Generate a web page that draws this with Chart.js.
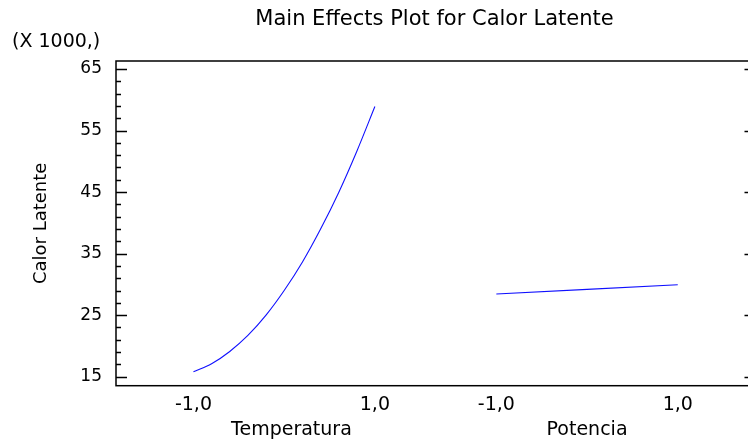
<!DOCTYPE html>
<html><head><meta charset="utf-8">
<script src="https://cdn.jsdelivr.net/npm/chart.js@4/dist/chart.umd.min.js"></script>
<style>
html,body{margin:0;padding:0;overflow:hidden;background:#fff;width:748px;height:443px}
#wrap{position:absolute;left:0;top:0;width:760px;height:443px}
</style>
</head><body><div id="wrap"><canvas id="c" width="760" height="443"></canvas></div>
<script>
// ---- data ----
const chartTitle = 'Main Effects Plot for Calor Latente';
const yAxisTitle = 'Calor Latente';
const yUnitLabel = '(X 1000,)';
const factorNames = ['Temperatura', 'Potencia'];
const factorCenters = [0, 3.339];          // axis position of each factor's centre
const factorNameAt = [0.08, 3.339];        // where each factor name sits on the axis
const levelTicks = [-1, 1];
const levelTickLabels = ['-1,0', '1,0'];
const tempLevels = [-1, -0.8, -0.6, -0.4, -0.2, 0, 0.2, 0.4, 0.6, 0.8, 1];
const tempValues = [15800, 17100, 19100, 21700, 25000, 29000, 33600, 38950, 44900, 51600, 58900];
const potLevels = [-1, 1];
const potValues = [28440, 29950];
const yTicks = [15000, 25000, 35000, 45000, 55000, 65000];
const yMinorStep = 2000;
const yMin = 13540, yMax = 66300;
const xMin = -1.854, xMax = 5.196;

const FONT = '"DejaVu Sans", sans-serif';
Chart.defaults.font.family = FONT;
Chart.defaults.color = '#000';

function series(levels, values, center) {
  return levels.map((l, i) => ({ x: center + l, y: values[i] }));
}

const framePlugin = {
  id: 'frameAndText',
  afterDraw(chart) {
    const ctx = chart.ctx;
    const a = chart.chartArea;
    const ys = chart.scales.y, xs = chart.scales.x;
    ctx.save();
    ctx.strokeStyle = '#000';
    ctx.lineWidth = 1.5;
    ctx.strokeRect(a.left, a.top, a.right - a.left, a.bottom - a.top);
    ctx.lineWidth = 1.3;
    ctx.beginPath();
    const first = yTicks[0], last = yTicks[yTicks.length - 1];
    for (let v = first; v <= last; v += yMinorStep) {
      const major = yTicks.includes(v);
      const len = major ? 11 : 5;
      const y = Math.round(ys.getPixelForValue(v)) + 0.5;
      ctx.moveTo(a.left, y); ctx.lineTo(a.left + len, y);
      ctx.moveTo(a.right, y); ctx.lineTo(a.right - len, y);
    }
    ctx.stroke();
    ctx.fillStyle = '#000';
    ctx.textAlign = 'center';
    ctx.textBaseline = 'alphabetic';
    ctx.font = '21px ' + FONT;
    ctx.fillText(chartTitle, 434.5, 25);
    ctx.textAlign = 'left';
    ctx.font = '19px ' + FONT;
    ctx.fillText(yUnitLabel, 12, 47);
    ctx.textAlign = 'center';
    factorNames.forEach((n, i) => {
      ctx.fillText(n, xs.getPixelForValue(factorNameAt[i]), 435);
    });
    ctx.restore();
  }
};

new Chart(document.getElementById('c'), {
  type: 'scatter',
  data: {
    datasets: [
      { label: factorNames[0], data: series(tempLevels, tempValues, factorCenters[0]) },
      { label: factorNames[1], data: series(potLevels, potValues, factorCenters[1]) }
    ]
  },
  options: {
    responsive: false,
    animation: false,
    devicePixelRatio: 1,
    layout: { padding: { left: 0, right: 4.5, top: 61, bottom: 0 } },
    elements: {
      line: { borderColor: '#1010ff', borderWidth: 1.1, cubicInterpolationMode: 'monotone' },
      point: { radius: 0, hoverRadius: 0 }
    },
    datasets: { scatter: { showLine: true, borderColor: '#1010ff', borderWidth: 1.1, pointRadius: 0, cubicInterpolationMode: 'monotone' } },
    plugins: { legend: { display: false }, tooltip: { enabled: false }, title: { display: false } },
    scales: {
      x: {
        type: 'linear', min: xMin, max: xMax,
        grid: { display: false, drawTicks: false },
        border: { display: false },
        afterBuildTicks(scale) {
          scale.ticks = factorCenters.flatMap(c => levelTicks.map(l => ({ value: c + l })));
        },
        afterFit(scale) { scale.height = 57.3; },
        ticks: {
          autoSkip: false, maxRotation: 0, padding: 8,
          font: { size: 19 }, color: '#000',
          callback: (v, i) => levelTickLabels[i % levelTickLabels.length]
        }
      },
      y: {
        type: 'linear', min: yMin, max: yMax,
        grid: { display: false, drawTicks: false },
        border: { display: false },
        afterBuildTicks(scale) { scale.ticks = yTicks.map(v => ({ value: v })); },
        afterFit(scale) { scale.width = 116; },
        ticks: {
          padding: 14, font: { size: 17 }, color: '#000',
          callback: v => String(v / 1000)
        },
        title: {
          display: true, text: yAxisTitle, color: '#000',
          font: { size: 18 }, padding: { top: 31, bottom: 0 }
        }
      }
    }
  },
  plugins: [framePlugin]
});
</script>
</body></html>
